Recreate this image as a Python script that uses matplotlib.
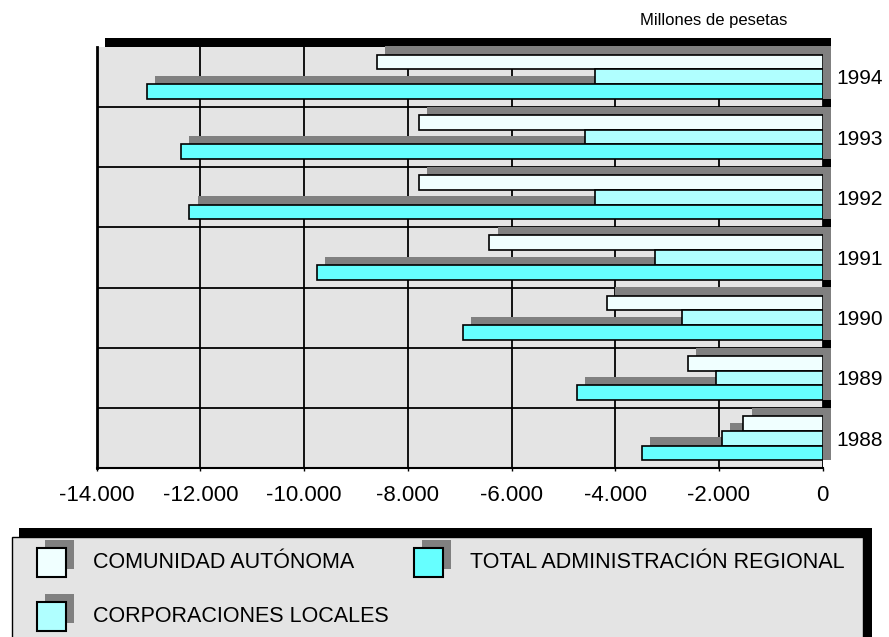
import matplotlib
matplotlib.use("Agg")
import matplotlib.pyplot as plt
from matplotlib.patches import Rectangle
from matplotlib.ticker import FuncFormatter
import numpy as np

# data (millones de pesetas)
years = ["1988", "1989", "1990", "1991", "1992", "1993", "1994"]
comunidad = [-1530, -2600, -4165, -6430, -7785, -7785, -8595]
corporaciones = [-1950, -2055, -2710, -3235, -4390, -4585, -4390]
total = [-3490, -4735, -6935, -9750, -12215, -12380, -13035]

names = ["COMUNIDAD AUTÓNOMA", "CORPORACIONES LOCALES", "TOTAL ADMINISTRACIÓN REGIONAL"]
colors = ["#f0ffff", "#b0ffff", "#66ffff"]
shadow = "#808080"
panel = "#e4e4e4"

plt.rcParams['font.family'] = ['Liberation Sans', 'DejaVu Sans']

W, H = 889, 637
fig = plt.figure(figsize=(W / 100, H / 100), dpi=100)

# plot area in pixels
pl, pt, pr, pb = 96.7, 46.7, 822.7, 468.3
off = 8.3  # depth of the 3d shadow, px

# background layer: frame shadow + legend box
bg = fig.add_axes([0, 0, 1, 1], zorder=1)
bg.set_xlim(0, W)
bg.set_ylim(H, 0)
bg.axis('off')
bg.add_patch(Rectangle((pl + off, pt - off), pr - pl, pb - pt, color='black', lw=0))

ax = fig.add_axes([pl / W, 1 - pb / H, (pr - pl) / W, (pb - pt) / H], zorder=2)
ax.set_facecolor(panel)

n = len(years)
yc = np.arange(n) + 0.5
h = 0.244
dy = off / ((pb - pt) / n)
dx = off * 14000 / (pr - pl)
ypos = [yc + h, yc, yc - h]
series = [comunidad, corporaciones, total]

# shadows first, then bars
for vals, y in zip(series, ypos):
    v = np.array(vals)
    ax.barh(y + dy / 2, -v, left=v + dx, height=h + dy, color=shadow,
            linewidth=0, clip_on=False, zorder=2)
for vals, y, c in zip(series, ypos, colors):
    ax.barh(y, vals, height=h, color=c, edgecolor='black', linewidth=1.2, zorder=3)

ax.set_xlim(-14000, 0)
ax.set_ylim(0, n)
ax.set_xticks(np.arange(-14000, 1, 2000))
ax.xaxis.set_major_formatter(FuncFormatter(lambda v, p: f"{int(v):,}".replace(",", ".")))
ax.set_yticks(np.arange(1, n))
ax.set_yticks(yc, minor=True)
ax.set_yticklabels([])
ax.set_yticklabels(years, minor=True)
ax.grid(True, which='major', color='black', linewidth=1.3)
ax.set_axisbelow(True)
ax.tick_params(axis='y', which='both', length=0, labelleft=False, labelright=True,
               pad=10, labelsize=15)
ax.tick_params(axis='x', length=2, width=1, pad=10, labelsize=16)
for s in ['top', 'right']:
    ax.spines[s].set_visible(False)
ax.spines['left'].set_linewidth(2)
ax.spines['bottom'].set_linewidth(1.5)

fig.text(714 / W, 1 - 20 / H, "Millones de pesetas", ha='center', va='center', fontsize=12)

# legend box
bg.add_patch(Rectangle((19.3, 528.3), 852.4, 200, color='black', lw=0))
bg.add_patch(Rectangle((11.7, 536.7), 851.6, 200, facecolor=panel, edgecolor='black', lw=1))
leg_pos = [(36.7, 548), (36.7, 602), (414, 548)]
sq = 29
for (x, y), c, name in zip(leg_pos, colors, names):
    bg.add_patch(Rectangle((x + off, y - off), sq, sq, color=shadow, lw=0))
    bg.add_patch(Rectangle((x, y), sq, sq, facecolor=c, edgecolor='black', lw=1.5))
    bg.text(x + 56, y + sq / 2, name, va='center', ha='left', fontsize=15.5)

fig.savefig("out.png", dpi=100)
